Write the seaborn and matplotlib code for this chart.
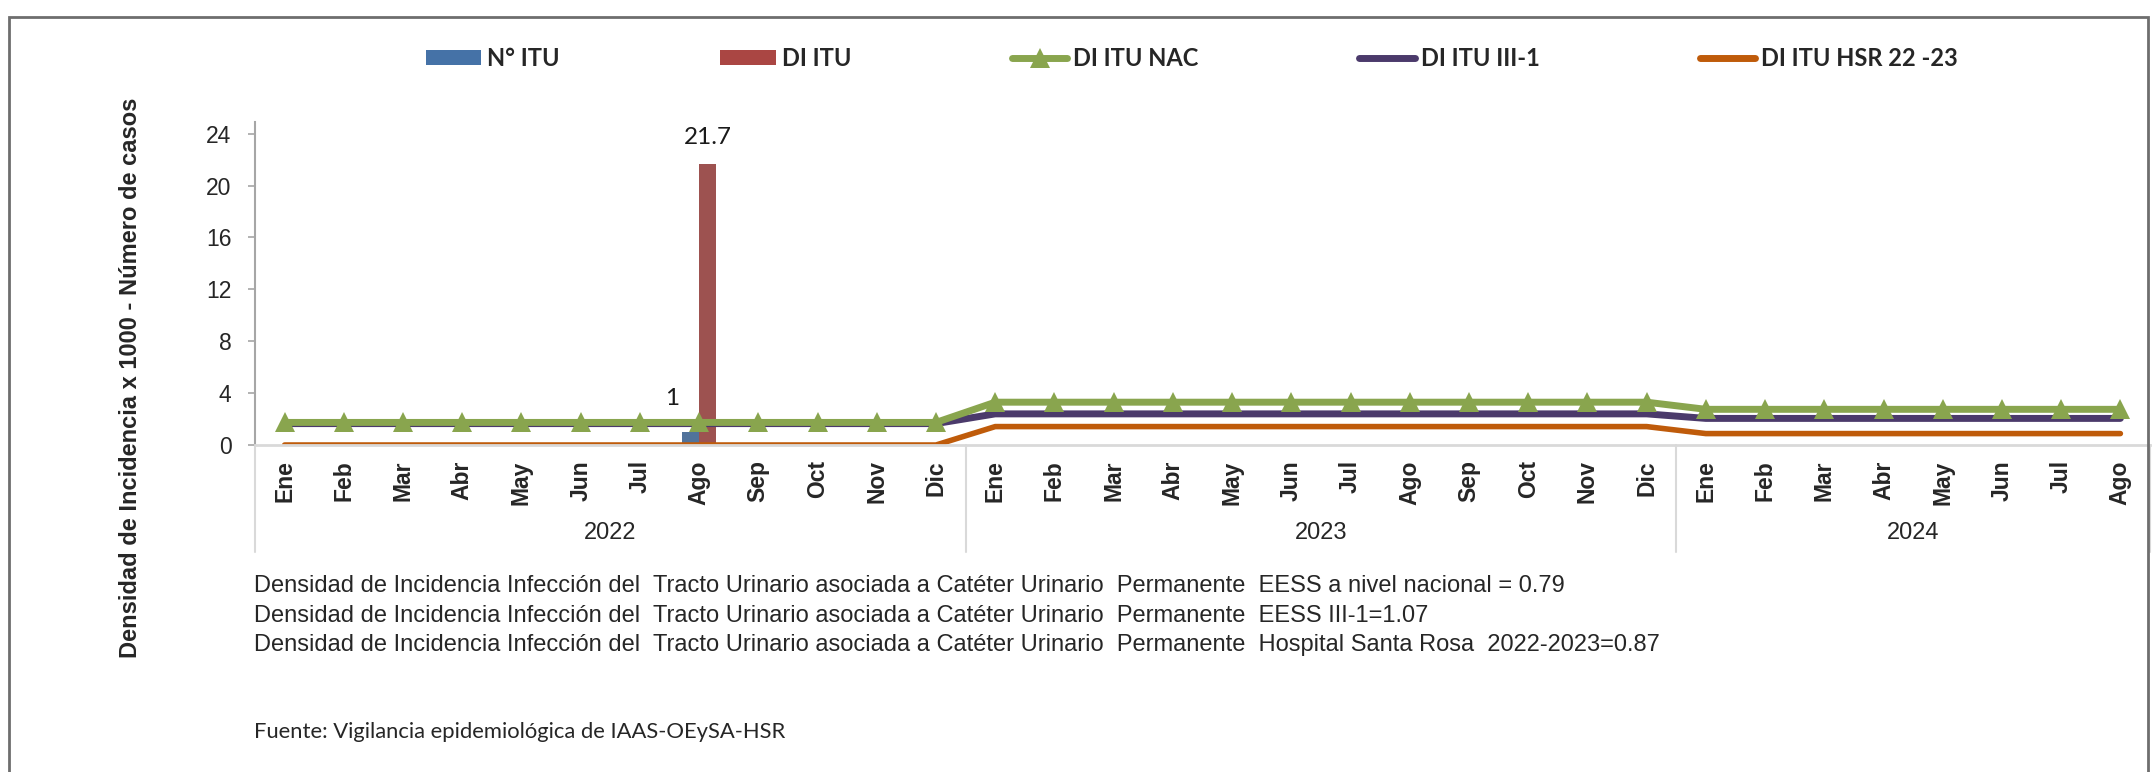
import pandas as pd
import matplotlib
matplotlib.use("Agg")
import matplotlib.pyplot as plt
import matplotlib.transforms as mtransforms
import seaborn as sns
from matplotlib import font_manager
from matplotlib.lines import Line2D
from matplotlib.patches import Patch, Rectangle

# ---------------- datos ----------------
MESES_2022 = ["Ene", "Feb", "Mar", "Abr", "May", "Jun", "Jul", "Ago", "Sep", "Oct", "Nov", "Dic"]
MESES_2023 = ["Ene", "Feb", "Mar", "Abr", "May", "Jun", "Jul", "Ago", "Sep", "Oct", "Nov", "Dic"]
MESES_2024 = ["Ene", "Feb", "Mar", "Abr", "May", "Jun", "Jul", "Ago"]
ANIOS = ["2022", "2023", "2024"]

N_ITU = [0, 0, 0, 0, 0, 0, 0, 1, 0, 0, 0, 0,
         0, 0, 0, 0, 0, 0, 0, 0, 0, 0, 0, 0,
         0, 0, 0, 0, 0, 0, 0, 0]
DI_ITU = [0, 0, 0, 0, 0, 0, 0, 21.7, 0, 0, 0, 0,
          0, 0, 0, 0, 0, 0, 0, 0, 0, 0, 0, 0,
          0, 0, 0, 0, 0, 0, 0, 0]
DI_NAC = [1.74, 1.74, 1.74, 1.74, 1.74, 1.74, 1.74, 1.74, 1.74, 1.74, 1.74, 1.74,
          3.30, 3.30, 3.30, 3.30, 3.30, 3.30, 3.30, 3.30, 3.30, 3.30, 3.30, 3.30,
          2.75, 2.75, 2.75, 2.75, 2.75, 2.75, 2.75, 2.75]
DI_III1 = [1.65, 1.65, 1.65, 1.65, 1.65, 1.65, 1.65, 1.65, 1.65, 1.65, 1.65, 1.65,
           2.40, 2.40, 2.40, 2.40, 2.40, 2.40, 2.40, 2.40, 2.40, 2.40, 2.40, 2.40,
           2.05, 2.05, 2.05, 2.05, 2.05, 2.05, 2.05, 2.05]
DI_HSR = [0, 0, 0, 0, 0, 0, 0, 0, 0, 0, 0, 0,
          1.42, 1.42, 1.42, 1.42, 1.42, 1.42, 1.42, 1.42, 1.42, 1.42, 1.42, 1.42,
          0.88, 0.88, 0.88, 0.88, 0.88, 0.88, 0.88, 0.88]

NOTAS = [
    "Densidad de Incidencia Infección del  Tracto Urinario asociada a Catéter Urinario  Permanente  EESS a nivel nacional = 0.79",
    "Densidad de Incidencia Infección del  Tracto Urinario asociada a Catéter Urinario  Permanente  EESS III-1=1.07",
    "Densidad de Incidencia Infección del  Tracto Urinario asociada a Catéter Urinario  Permanente  Hospital Santa Rosa  2022-2023=0.87",
]
FUENTE = "Fuente: Vigilancia epidemiológica de IAAS-OEySA-HSR"

C_AZUL = "#4572A7"
C_ROJO = "#AA4643"
C_VERDE = "#89A54E"
C_MORADO = "#4B3A6B"
C_NARANJA = "#BF5B0A"

meses = MESES_2022 + MESES_2023 + MESES_2024
pos = list(range(len(meses)))
grupos = [len(MESES_2022), len(MESES_2023), len(MESES_2024)]

barras = pd.DataFrame({
    "pos": pos + pos,
    "serie": ["N° ITU"] * len(pos) + ["DI ITU"] * len(pos),
    "valor": N_ITU + DI_ITU,
})

# ---------------- estilo ----------------
sns.set_theme(style="white")
plt.rcParams["font.family"] = ["Liberation Sans", "DejaVu Sans"]
nombres = {f.name for f in font_manager.fontManager.ttflist}
F_CAL = ["Lato", "DejaVu Sans"] if "Lato" in nombres else ["DejaVu Sans"]

W, H = 2153, 772
fig = plt.figure(figsize=(W / 100, H / 100), dpi=100)
ax = fig.add_axes([255 / W, 1 - 445 / H, (2150 - 255) / W, (445 - 122) / H])

sns.barplot(data=barras, x="pos", y="valor", hue="serie", hue_order=["N° ITU", "DI ITU"],
            palette=[C_AZUL, C_ROJO], width=0.58, gap=0, linewidth=0, errorbar=None,
            legend=False, ax=ax)

sns.lineplot(x=pos, y=DI_HSR, color=C_NARANJA, lw=4, ax=ax, solid_capstyle="round")
sns.lineplot(x=pos, y=DI_III1, color=C_MORADO, lw=5, ax=ax, solid_capstyle="round")
sns.lineplot(x=pos, y=DI_NAC, color=C_VERDE, lw=5, marker="^", markersize=15,
             markeredgewidth=0, ax=ax)

# etiquetas de datos
i_ago = 7
ax.annotate(f"{DI_ITU[i_ago]:.1f}", xy=(i_ago + 0.145, DI_ITU[i_ago]), xytext=(0, 19),
            textcoords="offset points", ha="center", va="center", fontsize=17.5,
            family=F_CAL, color="#1a1a1a")
ax.annotate(f"{N_ITU[i_ago]:g}", xy=(i_ago - 0.145, N_ITU[i_ago]), xytext=(-13, 24),
            textcoords="offset points", ha="center", va="center", fontsize=17.5,
            family=F_CAL, color="#1a1a1a")

ax.set_xlim(-0.5, len(pos) - 0.5)
ax.set_ylim(0, 24.9)
ax.set_yticks([0, 4, 8, 12, 16, 20, 24])
ax.set_xticks(pos)
ax.set_xticklabels(meses, rotation=90, fontsize=16.5, fontweight="bold")
ax.tick_params(axis="x", length=0, pad=11)
ax.tick_params(axis="y", length=5, width=1.2, color="#A6A6A6", pad=12, labelsize=16.5,
               left=True)
ax.set_xlabel("")
ax.set_ylabel("")
for s in ["top", "right"]:
    ax.spines[s].set_visible(False)
ax.spines["left"].set_color("#A6A6A6")
ax.spines["left"].set_linewidth(1.5)
ax.spines["bottom"].set_color("#D9D9D9")
ax.spines["bottom"].set_linewidth(2)

# separadores de años y etiquetas de años
trans = mtransforms.blended_transform_factory(ax.transData, ax.transAxes)
y_sep = -(552 - 445) / (445 - 122)
y_anio = -(533 - 445) / (445 - 122)
inicio = -0.5
for anio, n in zip(ANIOS, grupos):
    ax.plot([inicio, inicio], [0, y_sep], transform=trans, color="#D9D9D9", lw=1.5, clip_on=False)
    ax.text(inicio + n / 2, y_anio, anio, transform=trans, ha="center", va="center",
            fontsize=17)
    inicio += n
ax.plot([inicio, inicio], [0, y_sep], transform=trans, color="#D9D9D9", lw=1.5, clip_on=False)

# título del eje y
fig.text(131 / W, 1 - 378 / H, "Densidad de Incidencia x 1000 - Número de casos",
         rotation=90, ha="center", va="center", fontsize=17, fontweight="bold")

# leyenda
handles = [
    Patch(facecolor=C_AZUL, edgecolor="none", label="N° ITU"),
    Patch(facecolor=C_ROJO, edgecolor="none", label="DI ITU"),
    Line2D([0], [0], color=C_VERDE, lw=5, marker="^", markersize=15, markeredgewidth=0,
           label="DI ITU NAC"),
    Line2D([0], [0], color=C_MORADO, lw=5, solid_capstyle="round", label="DI ITU III-1"),
    Line2D([0], [0], color=C_NARANJA, lw=5, solid_capstyle="round", label="DI ITU HSR 22 -23"),
]
fig.legend(handles=handles, loc="center", bbox_to_anchor=(1192 / W, 1 - 58 / H), ncol=5,
           frameon=False, handlelength=2.35, handleheight=0.6, handletextpad=0.25,
           columnspacing=6.8, prop={"family": F_CAL, "weight": "bold", "size": 17})

# notas
for k, nota in enumerate(NOTAS):
    fig.text(254 / W, 1 - (586 + 29.5 * k) / H, nota, ha="left", va="center", fontsize=17)
fig.text(254 / W, 1 - 732 / H, FUENTE, ha="left", va="center", fontsize=15.8, family=F_CAL)

# marco
fig.patches.append(Rectangle((9 / W, -0.05), (2148 - 9) / W, 1.05 - 17 / H,
                             transform=fig.transFigure, fill=False, edgecolor="#6E6E6E",
                             lw=2))

fig.savefig("out.png", dpi=100)
